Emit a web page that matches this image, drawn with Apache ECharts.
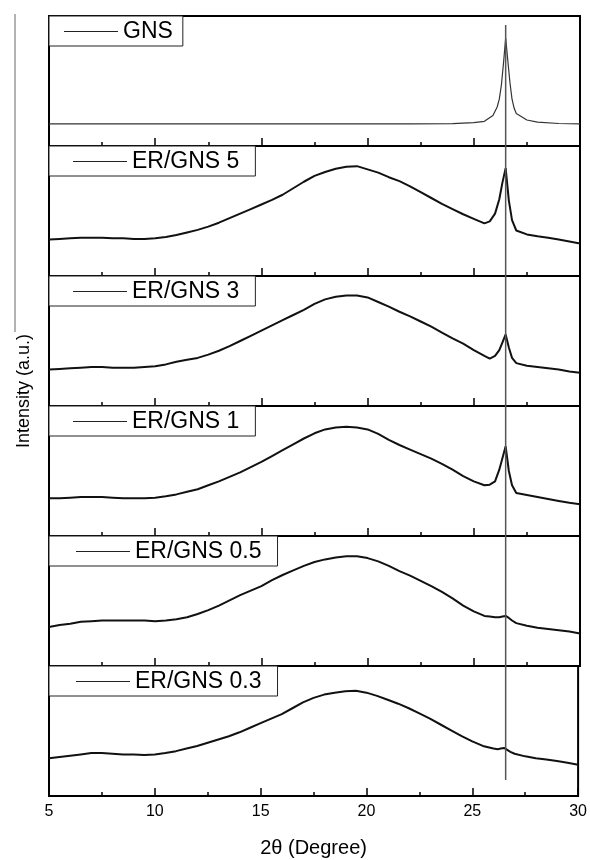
<!DOCTYPE html>
<html>
<head>
<meta charset="utf-8">
<script src="https://cdn.jsdelivr.net/npm/echarts@6/dist/echarts.min.js"></script>
<style>
  html, body { margin: 0; padding: 0; background: #fff; }
  #chart { width: 590px; height: 860px; }
</style>
</head>
<body>
<div id="chart"></div>
<script>
// 2theta positions (degree)
var thetaGNS = [5, 7, 10, 13, 15, 18, 20, 22, 24, 25, 25.5, 25.9, 26.1, 26.2, 26.3, 26.4, 26.5, 26.6, 26.7, 26.8, 26.9, 27, 27.5, 28, 29, 30];
var thetaER = [5, 5.5, 6, 6.5, 7, 7.5, 8, 8.5, 9, 9.5, 10, 10.5, 11, 11.5, 12, 12.5, 13, 13.5, 14, 14.5,
    15, 15.5, 16, 16.5, 17, 17.5, 18, 18.5, 19, 19.5, 20, 20.5, 21, 21.5, 22, 22.5, 23, 23.5, 24, 24.5,
    25, 25.5, 25.75, 26, 26.2, 26.35, 26.5, 26.65, 26.8, 27, 27.5, 28, 28.5, 29, 29.5, 30];

// intensity (a.u.), each panel 0-100
var gns = [17, 17, 17, 17, 17, 17, 17, 17, 17.2, 18, 19, 23.5, 30, 36, 47, 64, 83, 66, 49, 36, 29, 25, 20, 18.3, 17.3, 17];
var erGns5 = [28, 28.5, 29, 29.5, 29.5, 29.5, 29, 29, 28.5, 28.5, 29, 30, 31.5, 33.5, 35.5, 38, 41, 44.5, 48, 51.5,
    55, 58.5, 62.5, 67.5, 72.5, 77, 80, 82.5, 84, 84.5, 82, 79.5, 76, 73, 69, 64.5, 60, 55.5, 51.5, 47.5,
    44, 40.5, 42, 48, 59, 72, 83, 58, 43, 35, 32, 30.5, 29.5, 28, 26.5, 25];
var erGns3 = [28, 28.5, 29, 29.5, 30, 30, 29.5, 29.5, 29.5, 30, 30.5, 32, 34, 35.5, 37, 39.5, 42.5, 46, 50, 54,
    58, 62, 66, 70, 74, 78.5, 82, 84, 85, 85, 83.5, 80, 76.5, 72.5, 69, 65, 61, 56.5, 52, 48,
    43, 38.5, 36.5, 38.5, 43, 49, 55, 45, 37, 33, 31, 30, 29, 28, 26.5, 25.5];
var erGns1 = [29, 29, 29.5, 30, 30, 30, 29.5, 29, 29, 29, 29.5, 30.5, 32, 34, 36, 39, 42, 45.5, 49, 53,
    57, 61.5, 66, 70.5, 75, 79, 82, 83.5, 84, 83.5, 82, 78.5, 74, 70, 66.5, 63, 59.5, 55.5, 51, 46,
    42, 39, 39.5, 42, 51, 60, 69, 50, 39, 33, 31.5, 30, 28.5, 27, 25.5, 24.5];
var erGns05 = [30, 31.5, 32.5, 34, 34.5, 35, 35, 35, 35, 35, 34.5, 35, 36, 37.5, 40, 43, 46.5, 50.5, 54.5, 58,
    61.5, 66, 70, 73.5, 77, 80, 82, 83.5, 84.5, 84.5, 83, 80.5, 77, 73, 69.5, 65.5, 61.5, 57, 52, 46.5,
    42, 38.5, 38, 37.5, 37.5, 38, 38.5, 37, 35, 33, 31, 29.5, 28.5, 27.5, 26.5, 25];
var erGns03 = [29, 30, 31, 32, 33, 33, 32.5, 32, 32, 31.5, 32, 33, 34.5, 36.5, 38.5, 41, 43.5, 46, 49, 52.5,
    56, 59.5, 63, 67.5, 72, 75.5, 78, 79.5, 80.5, 81, 79.5, 77, 74, 71, 67.5, 63.5, 59.5, 55, 50.5, 46,
    42, 38.5, 37.5, 36.5, 36, 36.5, 37, 35.5, 34, 32.5, 30.5, 29, 28, 27, 25.5, 24];

var refTheta = [26.5];
var xTicks = [5, 10, 15, 20, 25, 30];

var panels = [
    { name: 'GNS', x: thetaGNS, y: gns, padR: 10, padL: 15 },
    { name: 'ER/GNS 5', x: thetaER, y: erGns5, padR: 16, padL: 24 },
    { name: 'ER/GNS 3', x: thetaER, y: erGns3, padR: 16, padL: 24 },
    { name: 'ER/GNS 1', x: thetaER, y: erGns1, padR: 16, padL: 24 },
    { name: 'ER/GNS 0.5', x: thetaER, y: erGns05, padR: 16, padL: 27 },
    { name: 'ER/GNS 0.3', x: thetaER, y: erGns03, padR: 16, padL: 27 }
];

var FONT = '"Liberation Sans", Arial, sans-serif';
var panelTop = 16, panelH = 130, left = 49, right = 10;

var grids = [], xAxes = [], yAxes = [], series = [], legends = [];

panels.forEach(function(p, i) {
    var last = i === panels.length - 1;
    grids.push({
        left: left, right: right, top: panelTop + i * panelH, height: panelH,
        show: true, borderColor: '#000', borderWidth: 2
    });
    xAxes.push({
        type: 'value', gridIndex: i, min: xTicks[0], max: xTicks[xTicks.length - 1], interval: 5,
        axisLine: { show: true, lineStyle: { color: '#000', width: 2 } },
        axisTick: { show: true, inside: true, length: 8, lineStyle: { color: '#000', width: 1.5 } },
        minorTick: { show: true, splitNumber: 2, length: 4, lineStyle: { color: '#000', width: 1.5 } },
        splitLine: { show: false },
        axisLabel: { show: last, color: '#000', fontSize: 16, fontFamily: FONT, margin: 8 },
        name: last ? '2θ (Degree)' : '',
        nameLocation: 'middle', nameGap: 42,
        nameTextStyle: { color: '#000', fontSize: 20, fontFamily: FONT }
    });
    yAxes.push({ type: 'value', gridIndex: i, min: 0, max: 100, show: false });
    var data = p.x.map(function(t, k) { return [t, p.y[k]]; });
    series.push({
        name: p.name, type: 'line', xAxisIndex: i, yAxisIndex: i,
        data: data, symbol: 'none', showSymbol: false, silent: true,
        itemStyle: { color: '#222' },
        lineStyle: { color: i === 0 ? '#333' : '#111', width: i === 0 ? 1.2 : 2 }
    });
    legends.push({
        data: [p.name], left: left, top: panelTop + i * panelH,
        orient: 'horizontal', selectedMode: false,
        backgroundColor: '#fff', borderColor: '#222', borderWidth: 1,
        padding: [4, p.padR, 3, p.padL],
        icon: 'rect', itemWidth: 54, itemHeight: 1,
        itemStyle: { color: '#222' },
        textStyle: { color: '#000', fontSize: 23, fontFamily: FONT }
    });
});

// overlay grid for the 26.5 deg reference line
var ov = panels.length;
grids.push({ left: left, right: right, top: 25, bottom: 80 });
xAxes.push({ type: 'value', gridIndex: ov, min: 5, max: 30, show: false });
yAxes.push({ type: 'value', gridIndex: ov, min: 0, max: 1, show: false });
series.push({
    type: 'line', xAxisIndex: ov, yAxisIndex: ov, symbol: 'none', silent: true, z: 3,
    data: [[refTheta[0], 0], [refTheta[0], 1]],
    lineStyle: { color: '#555', width: 1.5 }
});

var chart = echarts.init(document.getElementById('chart'), null, { renderer: 'canvas' });
chart.setOption({
    animation: false,
    backgroundColor: '#fff',
    grid: grids,
    xAxis: xAxes,
    yAxis: yAxes,
    legend: legends,
    series: series,
    graphic: [
        { type: 'line', shape: { x1: 15, y1: 14, x2: 15, y2: 332 }, style: { stroke: '#666', lineWidth: 1 } },
        {
            type: 'text', x: 24, y: 391, rotation: Math.PI / 2,
            style: { text: 'Intensity (a.u.)', fill: '#000', font: '18px ' + FONT, textAlign: 'center', textVerticalAlign: 'middle' }
        }
    ]
});
</script>
</body>
</html>
